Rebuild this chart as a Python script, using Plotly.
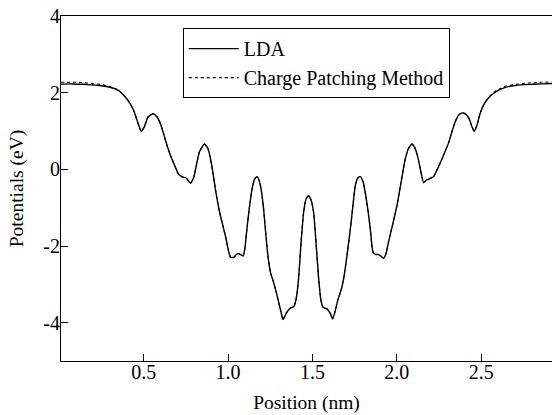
import plotly.graph_objects as go

position_nm = [0.01, 0.06, 0.10, 0.15, 0.20, 0.25, 0.30, 0.35, 0.38, 0.41, 0.44, 0.465, 0.486, 0.505,
               0.525, 0.556, 0.58, 0.60, 0.62, 0.64, 0.66, 0.68, 0.707, 0.73, 0.75, 0.777, 0.796, 0.812,
               0.83, 0.86, 0.88, 0.895, 0.91, 0.925, 0.94, 0.955, 0.984, 1.014, 1.033, 1.05, 1.063, 1.089,
               1.10, 1.112, 1.125, 1.142, 1.158, 1.172, 1.185, 1.197, 1.21, 1.221, 1.235, 1.251, 1.27,
               1.29, 1.31, 1.326, 1.345, 1.369, 1.39, 1.405, 1.418, 1.433, 1.448, 1.462, 1.477, 1.492,
               1.507, 1.522, 1.537, 1.55, 1.563, 1.586, 1.605, 1.62, 1.635, 1.65, 1.67, 1.685, 1.705,
               1.725, 1.74, 1.754, 1.77, 1.784, 1.80, 1.813, 1.83, 1.843, 1.859, 1.875, 1.89, 1.905,
               1.922, 1.936, 1.951, 1.975, 2.001, 2.025, 2.05, 2.07, 2.09, 2.105, 2.123, 2.14, 2.159,
               2.175, 2.188, 2.205, 2.218, 2.238, 2.258, 2.285, 2.307, 2.327, 2.347, 2.37, 2.392, 2.415,
               2.431, 2.445, 2.459, 2.475, 2.495, 2.515, 2.534, 2.56, 2.594, 2.64, 2.692, 2.75, 2.81,
               2.86, 2.92]

lda_ev = [2.22, 2.23, 2.22, 2.22, 2.20, 2.18, 2.14, 2.06, 1.94, 1.78, 1.55, 1.22, 0.99, 1.12,
          1.36, 1.45, 1.36, 1.18, 0.90, 0.60, 0.35, 0.14, -0.13, -0.20, -0.22, -0.36, -0.22, 0.10,
          0.45, 0.66, 0.55, 0.30, -0.08, -0.52, -0.90, -1.21, -1.73, -2.29, -2.30, -2.22, -2.20, -2.26,
          -2.05, -1.55, -1.05, -0.52, -0.25, -0.19, -0.30, -0.55, -1.00, -1.55, -2.20, -2.68, -2.95,
          -3.28, -3.65, -3.92, -3.75, -3.62, -3.58, -3.35, -2.85, -1.90, -1.12, -0.78, -0.69, -0.80,
          -1.12, -1.95, -2.85, -3.40, -3.60, -3.64, -3.75, -3.90, -3.70, -3.42, -3.15, -2.85, -2.25,
          -1.55, -0.95, -0.43, -0.22, -0.19, -0.32, -0.60, -1.10, -1.55, -2.16, -2.22, -2.22, -2.26,
          -2.32, -2.20, -1.90, -1.45, -0.95, -0.35, 0.26, 0.55, 0.66, 0.58, 0.35, 0.00, -0.35,
          -0.28, -0.26, -0.22, -0.19, -0.02, 0.17, 0.45, 0.69, 0.98, 1.25, 1.43, 1.47, 1.42,
          1.30, 1.12, 0.99, 1.15, 1.47, 1.68, 1.81, 1.93, 2.04, 2.13, 2.18, 2.21, 2.22,
          2.23, 2.24]

cpm_ev = [2.27, 2.27, 2.27, 2.26, 2.24, 2.21, 2.16, 2.07, 1.94, 1.78, 1.55, 1.22, 0.99, 1.12,
          1.36, 1.45, 1.36, 1.18, 0.90, 0.60, 0.35, 0.14, -0.13, -0.20, -0.22, -0.36, -0.22, 0.10,
          0.45, 0.66, 0.55, 0.30, -0.08, -0.52, -0.90, -1.21, -1.73, -2.29, -2.30, -2.22, -2.20, -2.26,
          -2.05, -1.55, -1.05, -0.52, -0.25, -0.19, -0.30, -0.55, -1.00, -1.55, -2.20, -2.68, -2.95,
          -3.28, -3.65, -3.92, -3.75, -3.62, -3.58, -3.35, -2.85, -1.90, -1.12, -0.78, -0.69, -0.80,
          -1.12, -1.95, -2.85, -3.40, -3.60, -3.64, -3.75, -3.90, -3.70, -3.42, -3.15, -2.85, -2.25,
          -1.55, -0.95, -0.43, -0.22, -0.19, -0.32, -0.60, -1.10, -1.55, -2.16, -2.22, -2.22, -2.26,
          -2.32, -2.20, -1.90, -1.45, -0.95, -0.35, 0.26, 0.55, 0.66, 0.58, 0.35, 0.00, -0.35,
          -0.28, -0.26, -0.22, -0.19, -0.02, 0.17, 0.45, 0.69, 0.98, 1.25, 1.43, 1.47, 1.42,
          1.30, 1.12, 0.99, 1.15, 1.47, 1.68, 1.82, 1.95, 2.07, 2.16, 2.21, 2.24, 2.26,
          2.27, 2.28]

x_tick_vals = [0.5, 1.0, 1.5, 2.0, 2.5]
x_tick_text = ["0.5", "1.0", "1.5", "2.0", "2.5"]
y_tick_vals = [-4, -2, 0, 2, 4]
y_tick_text = ["-4", "-2", "0", "2", "4"]

FONT = "Liberation Serif"

fig = go.Figure()
fig.add_trace(go.Scatter(x=position_nm, y=lda_ev, mode="lines", name="LDA",
                         line=dict(color="black", width=1.4, shape="spline", smoothing=0.5)))
fig.add_trace(go.Scatter(x=position_nm, y=cpm_ev, mode="lines", name="Charge Patching Method",
                         line=dict(color="black", width=1.1, dash="dot", shape="spline", smoothing=0.5)))

axis_common = dict(showline=True, linecolor="black", linewidth=1.2, ticks="inside", ticklen=7,
                   tickwidth=1.2, tickcolor="black", showgrid=False, zeroline=False,
                   automargin=False,
                   tickfont=dict(family=FONT, size=20, color="black"))

fig.update_layout(
    width=552, height=415,
    margin=dict(l=61, r=0, t=16, b=54),
    plot_bgcolor="white", paper_bgcolor="white",
    font=dict(family=FONT, size=19, color="black"),
    showlegend=True,
    hovermode=False,
    legend=dict(x=0.248, y=0.965, xanchor="left", yanchor="top",
                bordercolor="black", borderwidth=1, bgcolor="white", itemwidth=50,
                font=dict(family=FONT, size=20, color="black")),
    xaxis=dict(range=[0.01, 2.92], tickvals=x_tick_vals, ticktext=x_tick_text, mirror=True,
               ticklabelstandoff=-7,
               title=dict(text="Position (nm)", font=dict(family=FONT, size=19.5), standoff=13),
               **axis_common),
    yaxis=dict(range=[-5, 4], tickvals=y_tick_vals, ticktext=y_tick_text,
               ticklabelstandoff=-4,
               title=dict(text="Potentials (eV)", font=dict(family=FONT, size=19.5), standoff=14),
               **axis_common),
)

fig.write_html("out.html", config={"displayModeBar": False},
               post_script="document.body.style.margin='0';document.body.style.overflow='hidden';")
